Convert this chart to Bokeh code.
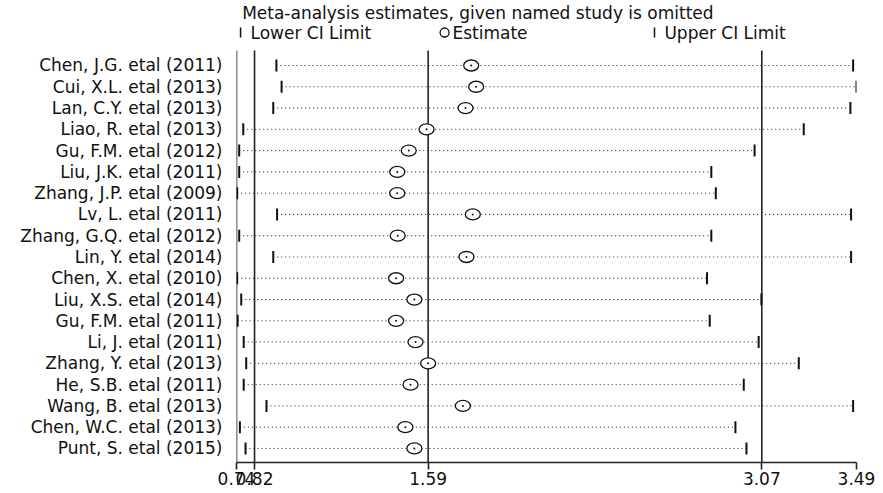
import numpy as np
from bokeh.plotting import figure
from bokeh.models import Range1d, FixedTicker, ColumnDataSource
from bokeh.core.properties import value
from bokeh.embed import file_html
from bokeh.resources import INLINE

studies = ["Chen, J.G. etal (2011)", "Cui, X.L. etal (2013)", "Lan, C.Y. etal (2013)",
           "Liao, R. etal (2013)", "Gu, F.M. etal (2012)", "Liu, J.K. etal (2011)",
           "Zhang, J.P. etal (2009)", "Lv, L. etal (2011)", "Zhang, G.Q. etal (2012)",
           "Lin, Y. etal (2014)", "Chen, X. etal (2010)", "Liu, X.S. etal (2014)",
           "Gu, F.M. etal (2011)", "Li, J. etal (2011)", "Zhang, Y. etal (2013)",
           "He, S.B. etal (2011)", "Wang, B. etal (2013)", "Chen, W.C. etal (2013)",
           "Punt, S. etal (2015)"]
lower = [0.917, 0.94, 0.903, 0.77, 0.752, 0.752, 0.743, 0.92, 0.752, 0.903,
         0.743, 0.761, 0.745, 0.772, 0.783, 0.772, 0.873, 0.755, 0.78]
estimate = [1.781, 1.803, 1.756, 1.583, 1.504, 1.453, 1.453, 1.788, 1.455, 1.76,
            1.448, 1.529, 1.448, 1.534, 1.59, 1.512, 1.744, 1.489, 1.529]
upper = [3.475, 3.49, 3.463, 3.256, 3.038, 2.846, 2.866, 3.466, 2.846, 3.466,
         2.827, 3.068, 2.839, 3.056, 3.234, 2.99, 3.475, 2.953, 3.002]
ref_lines = [0.74, 0.82, 1.59, 3.07]
x_ticks = [0.74, 0.82, 1.59, 3.07, 3.49]
title_text = "Meta-analysis estimates, given named study is omitted"
legend_texts = ["Lower CI Limit", "Estimate", "Upper CI Limit"]

FONT = "DejaVu Sans"
FS = "17px"
INK = "#111111"
n = len(studies)
rows = list(range(n))

p = figure(width=883, height=493, output_backend="svg", toolbar_location=None,
           x_range=Range1d(0.74, 3.49), y_range=Range1d(18.66, -3.055),
           min_border_left=236, min_border_right=27, min_border_top=0,
           min_border_bottom=31)
p.outline_line_color = None
p.xgrid.visible = False
p.ygrid.visible = False

# reference vertical lines
p.segment(x0=ref_lines, x1=ref_lines, y0=[-0.7] * len(ref_lines),
          y1=[18.66] * len(ref_lines), line_color="#222222", line_width=1.6)

src = ColumnDataSource(dict(y=rows, lo=lower, est=estimate, up=upper))
p.segment(x0="lo", x1="up", y0="y", y1="y", source=src, line_color="#222222",
          line_width=1, line_dash="1 3")
p.scatter(x="lo", y="y", source=src, marker="dash", angle=np.pi / 2, size=12,
          line_color=INK, line_width=2)
p.scatter(x="up", y="y", source=src, marker="dash", angle=np.pi / 2, size=12,
          line_color=INK, line_width=2)
p.ellipse(x="est", y="y", source=src, width=15, height=11, width_units="screen",
          height_units="screen", fill_color="white", line_color=INK, line_width=1.3)
p.scatter(x="est", y="y", source=src, marker="circle", size=2, fill_color=INK,
          line_color=None)

# title and legend
p.text(x=[0.765], y=[-2.49], text=[title_text], text_font=value(FONT),
       text_font_size=FS, text_baseline="middle", text_color=INK)
p.text(x=[0.802, 1.698, 2.638], y=[-1.55] * 3, text=legend_texts, text_font=value(FONT),
       text_font_size=FS, text_baseline="middle", text_color=INK)
p.scatter(x=[0.758, 2.594], y=[-1.55, -1.55], marker="dash", angle=np.pi / 2, size=10,
          line_color=INK, line_width=1.5)
p.scatter(x=[1.663], y=[-1.55], marker="circle", size=9, fill_color="white",
          line_color=INK, line_width=1.3)

# axes
p.yaxis.ticker = FixedTicker(ticks=rows)
p.yaxis.major_label_overrides = {i: s for i, s in enumerate(studies)}
p.yaxis.axis_line_color = None
p.yaxis.major_tick_line_color = None
p.yaxis.minor_tick_line_color = None
p.yaxis.major_tick_out = 0
p.yaxis.major_tick_in = 0
p.yaxis.major_label_standoff = 14
p.yaxis.major_label_text_font = FONT
p.yaxis.major_label_text_font_size = FS
p.yaxis.major_label_text_color = INK

p.xaxis.ticker = FixedTicker(ticks=x_ticks)
p.xaxis.major_label_overrides = {t: f"{t:.2f}" for t in x_ticks}
p.xaxis.axis_line_color = "#222222"
p.xaxis.axis_line_width = 1.6
p.xaxis.major_tick_line_color = "#222222"
p.xaxis.major_tick_line_width = 1.6
p.xaxis.major_tick_out = 7
p.xaxis.major_tick_in = 0
p.xaxis.minor_tick_line_color = None
p.xaxis.major_label_standoff = 2
p.xaxis.major_label_text_font = FONT
p.xaxis.major_label_text_font_size = FS
p.xaxis.major_label_text_color = INK

open("out.html", "w").write(file_html(p, INLINE))
